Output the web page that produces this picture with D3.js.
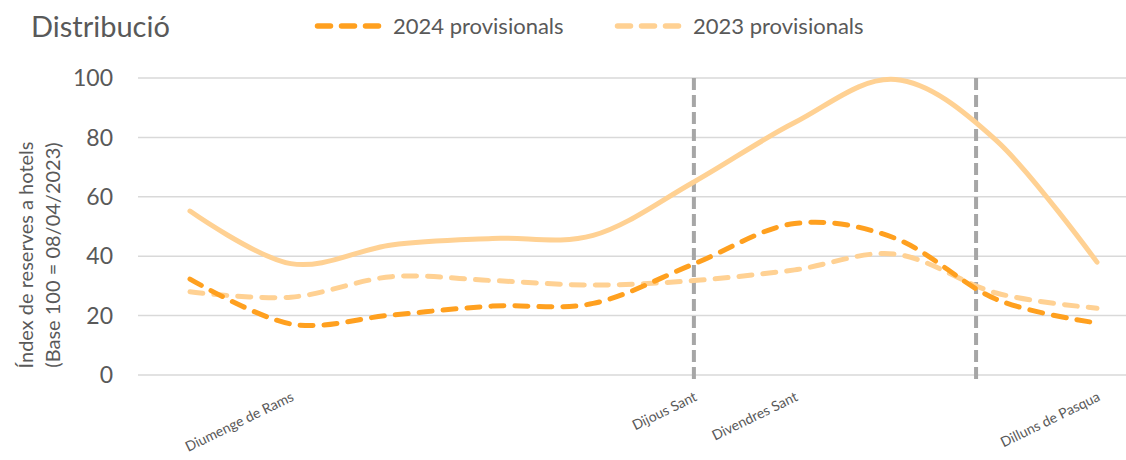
<!DOCTYPE html>
<html>
<head>
<meta charset="utf-8">
<script src="https://cdn.jsdelivr.net/npm/d3@7"></script>
<style>
body { margin: 0; background: #fff; }
text { font-family: Lato, "Open Sans", sans-serif; fill: #595959; }
</style>
</head>
<body>
<div id="chart"></div>
<script>
// days from the Saturday before Palm Sunday to Easter Monday
var days = ["", "Diumenge de Rams", "", "", "", "Dijous Sant", "Divendres Sant", "", "", "Dilluns de Pasqua"];
var yTicks = [0, 20, 40, 60, 80, 100];
var markerDays = [5, 7.8];

var final2023 = [55.2, 37.5, 43.8, 46, 47, 65, 85, 99.5, 79, 38];
var prov2024 = [32.3, 17.2, 20.2, 23.2, 24.1, 37.4, 51, 46, 25.5, 17.5];
var prov2023 = [28, 26.2, 33.1, 31.8, 30.3, 31.8, 35.4, 40.7, 27.6, 22.5];

var width = 1126;
var height = 460;
var darkOrange = "#ffa01f";
var lightOrange = "#ffd193";

var svg = d3.select("#chart")
    .append("svg")
    .attr("width", width)
    .attr("height", height);

var xScale = d3.scaleLinear()
    .domain([0, days.length - 1])
    .range([190, 1097]);

var yScale = d3.scaleLinear()
    .domain([0, 100])
    .range([375, 78]);

// gridlines + y labels
svg.append("g").selectAll("line")
    .data(yTicks).enter()
    .append("line")
    .attr("x1", 138)
    .attr("x2", width)
    .attr("y1", function(d) { return yScale(d); })
    .attr("y2", function(d) { return yScale(d); })
    .attr("stroke", "#d9d9d9")
    .attr("stroke-width", 1.5);

svg.append("g").selectAll("text")
    .data(yTicks).enter()
    .append("text")
    .attr("x", 113)
    .attr("y", function(d) { return yScale(d); })
    .attr("dy", "0.36em")
    .attr("text-anchor", "end")
    .attr("font-size", 23)
    .text(function(d) { return d; });

// vertical markers
svg.append("g").selectAll("line")
    .data(markerDays).enter()
    .append("line")
    .attr("x1", function(d) { return xScale(d); })
    .attr("x2", function(d) { return xScale(d); })
    .attr("y1", yScale(100))
    .attr("y2", yScale(0) + 4)
    .attr("stroke", "#a6a6a6")
    .attr("stroke-width", 4)
    .attr("stroke-dasharray", "12,5");

// x labels
svg.append("g").selectAll("text")
    .data(days.map(function(d, i) { return {name: d, i: i}; }).filter(function(d) { return d.name; }))
    .enter()
    .append("text")
    .attr("transform", function(d) {
        return "translate(" + (xScale(d.i) + 4) + ",400) rotate(-26)";
    })
    .attr("text-anchor", "end")
    .attr("font-size", 14)
    .text(function(d) { return d.name; });

var line = d3.line()
    .x(function(d, i) { return xScale(i); })
    .y(function(d) { return yScale(d); })
    .curve(d3.curveCardinal.tension(0));

var series = [
    {values: final2023, color: lightOrange, dash: null},
    {values: prov2023, color: lightOrange, dash: "13,11"},
    {values: prov2024, color: darkOrange, dash: "13,11"}
];

svg.append("g").selectAll("path")
    .data(series).enter()
    .append("path")
    .attr("d", function(d) { return line(d.values); })
    .attr("fill", "none")
    .attr("stroke", function(d) { return d.color; })
    .attr("stroke-width", 5)
    .attr("stroke-linecap", "round")
    .attr("stroke-dasharray", function(d) { return d.dash; });

// title
svg.append("text")
    .attr("x", 31)
    .attr("y", 37)
    .attr("font-size", 29)
    .text("Distribució");

// legend
var legend = [
    {name: "2024 provisionals", color: darkOrange, x: 315},
    {name: "2023 provisionals", color: lightOrange, x: 615}
];
var lg = svg.append("g").selectAll("g")
    .data(legend).enter()
    .append("g")
    .attr("transform", function(d) { return "translate(" + d.x + ",0)"; });
lg.append("line")
    .attr("x1", 2.5)
    .attr("x2", 65)
    .attr("y1", 26)
    .attr("y2", 26)
    .attr("stroke", function(d) { return d.color; })
    .attr("stroke-width", 5.5)
    .attr("stroke-linecap", "round")
    .attr("stroke-dasharray", "13,11");
lg.append("text")
    .attr("x", 78)
    .attr("y", 34)
    .attr("font-size", 22)
    .text(function(d) { return d.name; });

// y axis title
var yTitle = svg.append("text")
    .attr("transform", "translate(0,255) rotate(-90)")
    .attr("text-anchor", "middle")
    .attr("font-size", 20);
yTitle.append("tspan")
    .attr("x", 0)
    .attr("y", 33)
    .text("Índex de reserves a hotels");
yTitle.append("tspan")
    .attr("x", 0)
    .attr("y", 60)
    .text("(Base 100 = 08/04/2023)");
</script>
</body>
</html>
